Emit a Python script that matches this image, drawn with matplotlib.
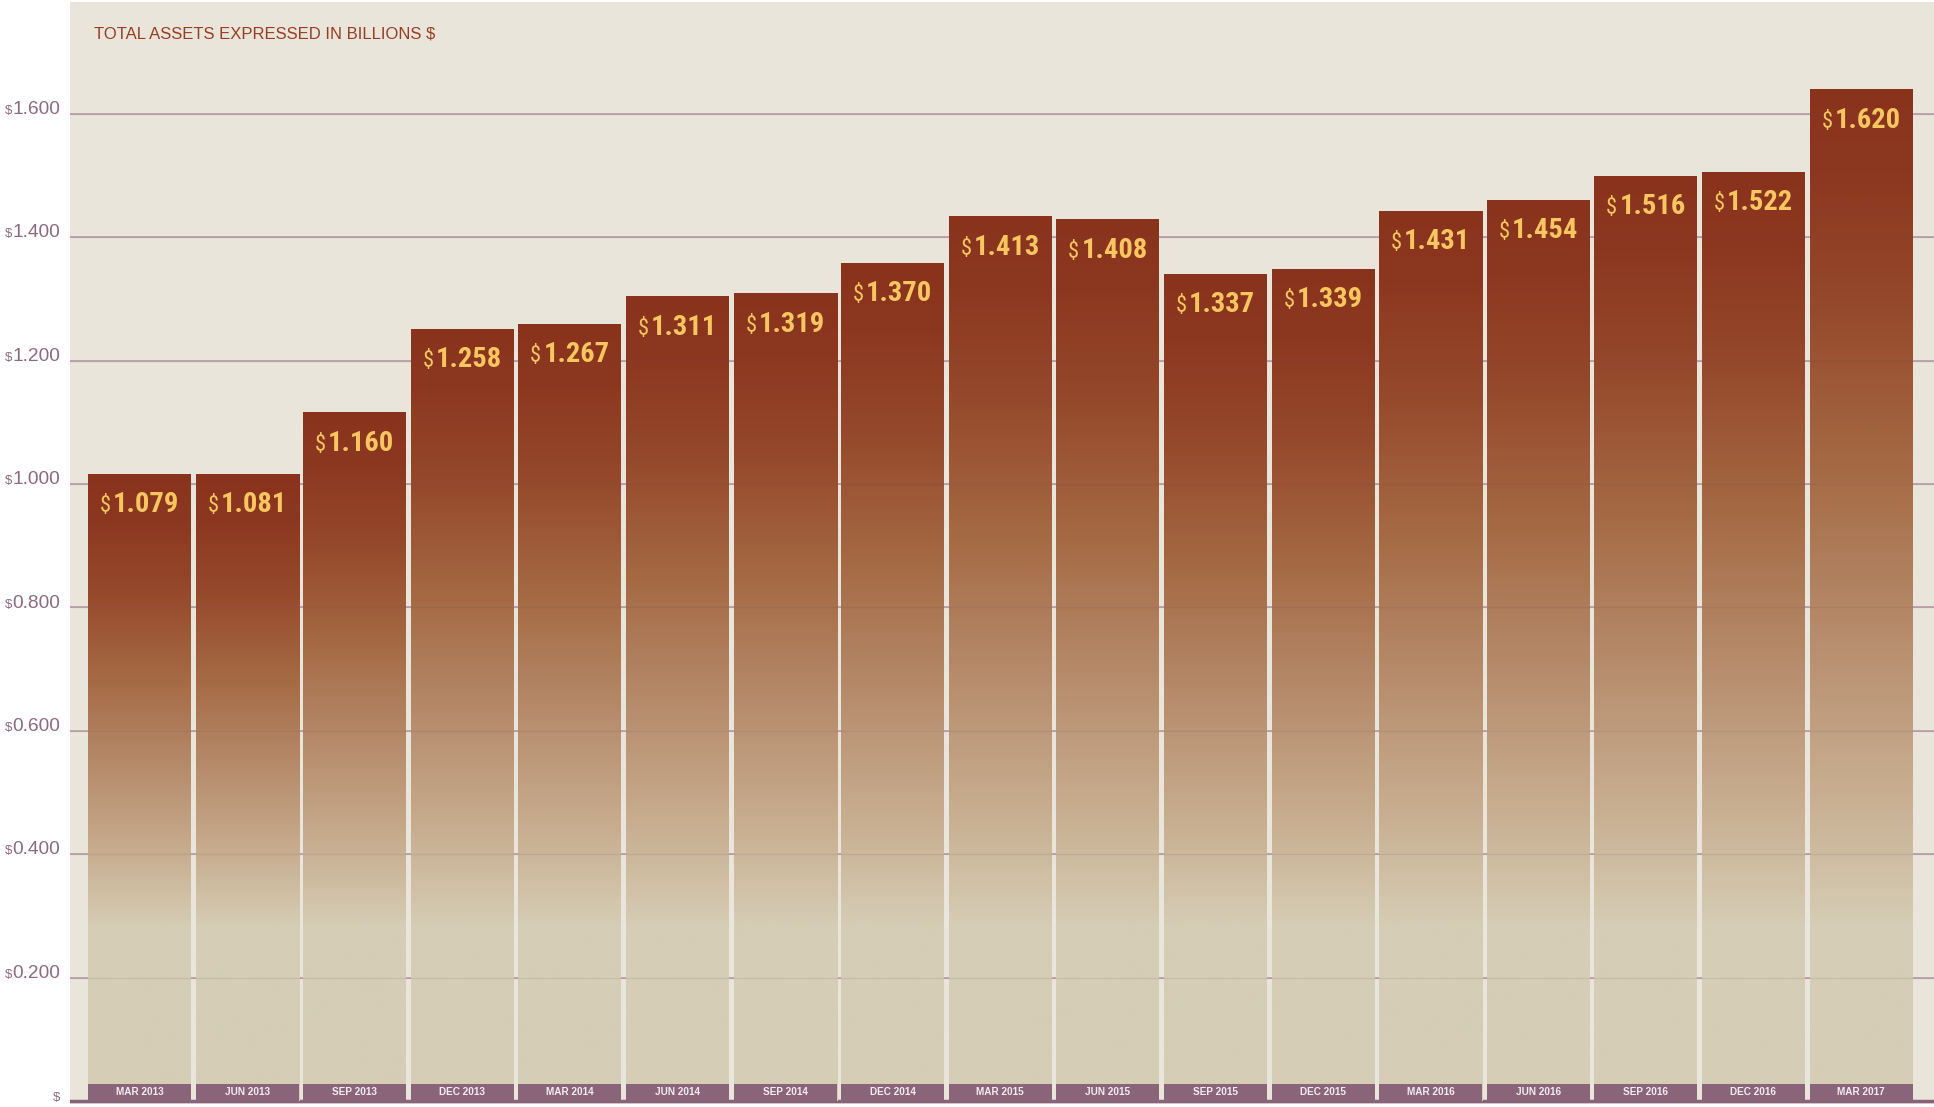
import numpy as np
import matplotlib
matplotlib.use("Agg")
import matplotlib.pyplot as plt
from matplotlib import font_manager
from matplotlib.colors import LinearSegmentedColormap
from matplotlib.offsetbox import TextArea, HPacker, AnnotationBbox

# quarters shown on the chart
quarters = ["MAR 2013", "JUN 2013", "SEP 2013", "DEC 2013", "MAR 2014", "JUN 2014",
            "SEP 2014", "DEC 2014", "MAR 2015", "JUN 2015", "SEP 2015", "DEC 2015",
            "MAR 2016", "JUN 2016", "SEP 2016", "DEC 2016", "MAR 2017"]
# printed value labels
labels = ["1.079", "1.081", "1.160", "1.258", "1.267", "1.311", "1.319", "1.370", "1.413",
          "1.408", "1.337", "1.339", "1.431", "1.454", "1.516", "1.522", "1.620"]
# bar heights as drawn against the axis (the graphic does not follow the labels exactly)
heights = [1.016, 1.016, 1.115, 1.251, 1.259, 1.303, 1.308, 1.358, 1.433,
           1.428, 1.340, 1.348, 1.442, 1.460, 1.499, 1.505, 1.639]
yticks = [0.2, 0.4, 0.6, 0.8, 1.0, 1.2, 1.4, 1.6]

W, H = 1934, 1107
PANEL = "#e9e5da"
GRID = "#b99cae"
TICK = "#8c6a7f"
BAND = "#8a6579"
GOLD = "#f8c660"
RUST = "#993d22"


def find_font(patterns):
    files = [f.fname for f in font_manager.fontManager.ttflist]
    for p in patterns:
        for f in files:
            if p.lower() in f.lower().replace("-", "").replace("_", "").replace(" ", ""):
                return font_manager.FontProperties(fname=f)
    return None


bold_fp = find_font(["LiberationSansNarrowBold.", "RobotoCondensedBold.",
                     "NotoSansCondensedBold.", "DejaVuSansCondensedBold.",
                     "OpenSansCondensedBold.", "CondensedBold."])
reg_fp = find_font(["LiberationSansNarrowRegular.", "RobotoCondensedRegular.",
                    "NotoSansCondensed.", "NotoSansCondensedRegular.",
                    "DejaVuSansCondensed.", "CondensedRegular."])
if bold_fp is None:
    bold_fp = font_manager.FontProperties(family="DejaVu Sans", weight="bold")
    bold_size = 17
else:
    bold_size = 20.5
if reg_fp is None:
    reg_fp = font_manager.FontProperties(family="DejaVu Sans")

cmap = LinearSegmentedColormap.from_list("bar", [
    (0.00, "#d5cdb5"),
    (0.15, "#c9b092"),
    (0.35, "#b68c6c"),
    (0.55, "#a56a44"),
    (0.75, "#95482b"),
    (0.90, "#8c3820"),
    (1.00, "#8a331c"),
])
FADE = 0.28  # below this level the bars are plain beige

fig = plt.figure(figsize=(W / 100, H / 100), dpi=100)
fig.patch.set_facecolor("white")
ax = fig.add_axes([70 / W, 3 / H, 1864 / W, 1102 / H])
ax.set_facecolor(PANEL)
for s in ax.spines.values():
    s.set_visible(False)

pitch = 107.6
ax.set_xlim((70 - 139.5) / pitch, (1934 - 139.5) / pitch)
ax.set_ylim(-3 / 617, 1.781)
ax.set_xticks([])
ax.set_yticks([])

bw = 103 / pitch
band_h = 17 / 617

for y in yticks:
    ax.axhline(y, color=GRID, lw=1.2, zorder=1)
    ax.axhline(y, color="#6f4a5e", lw=1.0, alpha=0.12, zorder=4)
ax.axhline(0, color="#86637a", lw=2.5, zorder=1)

for i, (h, lab, q) in enumerate(zip(heights, labels, quarters)):
    ys = np.linspace(0, h, 400)
    t = np.clip((ys - FADE) / (h - FADE), 0, 1)
    img = cmap(t)[::-1].reshape(-1, 1, 4)
    ax.imshow(img, extent=(i - bw / 2, i + bw / 2, 0, h), aspect="auto",
              interpolation="bilinear", zorder=2)
    ax.add_patch(plt.Rectangle((i - bw / 2, 0), bw, band_h, color=BAND, lw=0, zorder=5))
    ax.text(i, band_h / 2, q, ha="center", va="center", color="#f3ecf0",
            fontsize=7.2, fontweight="bold", family="Liberation Sans", zorder=6)

    dollar = TextArea("$", textprops=dict(color=GOLD, fontproperties=reg_fp, size=16))
    num = TextArea(lab, textprops=dict(color=GOLD, fontproperties=bold_fp, size=bold_size))
    pack = HPacker(children=[dollar, num], align="baseline", pad=0, sep=1.5)
    ab = AnnotationBbox(pack, (i, h), xybox=(0, -22), boxcoords="offset points",
                        box_alignment=(0.5, 0.5), frameon=False, zorder=6)
    ax.add_artist(ab)

# y tick labels sit in the white margin on the left
for y in yticks + [0.0]:
    parts = [TextArea("$", textprops=dict(color=TICK, fontsize=9.5, family="Liberation Sans"))]
    if y > 0:
        parts.append(TextArea(f"{y:.3f}", textprops=dict(color=TICK, fontsize=13.8,
                                                         family="Liberation Sans")))
    pack = HPacker(children=parts, align="baseline", pad=0, sep=0)
    ab = AnnotationBbox(pack, (60 / W, y), xycoords=("figure fraction", "data"),
                        box_alignment=(1.0, 0.25), frameon=False,
                        annotation_clip=False)
    ax.add_artist(ab)

fig.text(94 / W, 1 - 34 / H, "TOTAL ASSETS EXPRESSED IN BILLIONS $", color=RUST,
         fontsize=12.0, family="Liberation Sans", va="center", ha="left")

fig.savefig("out.png", dpi=100, facecolor="white")
